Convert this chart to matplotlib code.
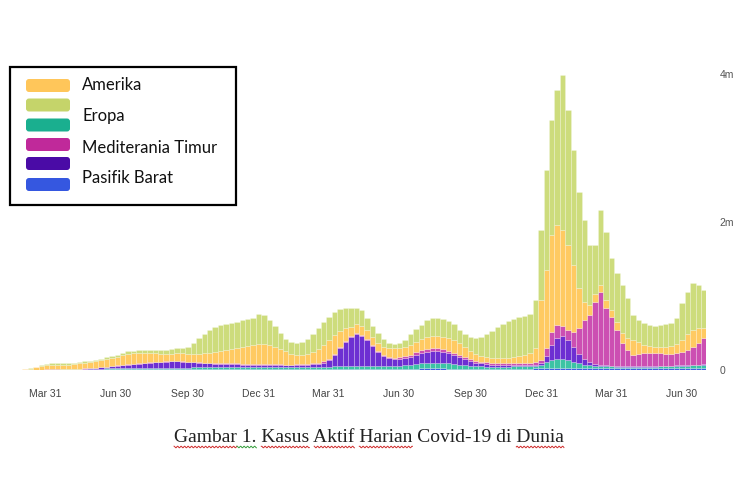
import matplotlib
matplotlib.use('Agg')
import matplotlib.pyplot as plt
from matplotlib.patches import FancyBboxPatch, Rectangle
from matplotlib.font_manager import FontProperties
import numpy as np
import pandas as pd

# weekly daily-case levels per region, thousands
weeks = pd.date_range('2020-03-05', periods=126, freq='7D')

blue = [1, 1, 2, 2, 3, 3, 3, 4, 4, 5,
        6, 7, 8, 9, 10, 11, 12, 13, 13, 14,
        14, 14, 15, 15, 14, 14, 13, 13, 13, 14,
        14, 15, 15, 16, 16, 17, 17, 17, 18, 18,
        18, 18, 19, 20, 20, 19, 18, 17, 16, 16,
        16, 16, 16, 17, 17, 17, 18, 18, 19, 19,
        19, 19, 18, 18, 17, 17, 16, 16, 16, 17,
        18, 19, 20, 21, 22, 22, 22, 21, 20, 19,
        18, 17, 16, 15, 15, 15, 15, 16, 16, 17,
        18, 19, 19, 20, 22, 24, 27, 30, 30, 29,
        28, 26, 25, 24, 24, 25, 26, 25, 24, 23,
        22, 21, 21, 21, 22, 22, 23, 24, 25, 26,
        28, 30, 31, 32, 32, 31]
teal = [0, 0, 1, 1, 2, 3, 3, 4, 5, 5,
        6, 7, 8, 9, 10, 11, 12, 13, 14, 15,
        15, 16, 16, 17, 17, 17, 17, 17, 18, 18,
        18, 19, 20, 20, 21, 21, 22, 22, 22, 23,
        23, 23, 24, 24, 24, 24, 23, 22, 22, 22,
        22, 22, 23, 24, 25, 27, 29, 31, 33, 35,
        36, 37, 38, 37, 36, 35, 35, 36, 38, 42,
        48, 55, 62, 68, 72, 74, 74, 72, 68, 62,
        55, 48, 42, 37, 34, 32, 30, 29, 29, 29,
        30, 31, 32, 33, 36, 50, 80, 105, 115, 115,
        105, 88, 68, 50, 38, 32, 28, 26, 25, 24,
        23, 22, 22, 22, 22, 23, 23, 24, 25, 26,
        27, 28, 29, 30, 31, 32]
purple = [0, 0, 1, 1, 1, 2, 2, 3, 3, 4,
          4, 6, 8, 12, 16, 21, 27, 32, 38, 43,
          49, 55, 61, 65, 72, 77, 82, 85, 84, 80,
          76, 70, 65, 59, 53, 48, 45, 42, 38, 35,
          33, 32, 29, 28, 26, 25, 25, 26, 25, 25,
          27, 30, 33, 36, 43, 57, 88, 154, 245, 324,
          391, 430, 403, 350, 271, 191, 138, 110, 95, 90,
          96, 102, 121, 141, 149, 161, 161, 150, 142, 122,
          103, 84, 64, 49, 39, 34, 29, 23, 23, 22,
          20, 18, 17, 15, 16, 21, 82, 203, 287, 315,
          272, 197, 123, 75, 46, 26, 16, 12, 9, 8,
          7, 7, 6, 6, 6, 6, 6, 6, 6, 7,
          7, 8, 9, 10, 11, 12]
mediterania = [1, 1, 2, 2, 2, 2, 2, 2, 2, 2,
               2, 2, 2, 3, 3, 3, 4, 4, 5, 5,
               6, 6, 6, 5, 5, 5, 5, 5, 5, 5,
               5, 5, 6, 6, 7, 8, 9, 10, 11, 12,
               13, 14, 15, 15, 14, 12, 11, 10, 10, 10,
               10, 10, 11, 12, 13, 14, 15, 16, 17, 18,
               18, 18, 17, 16, 15, 14, 14, 15, 17, 20,
               25, 30, 34, 36, 38, 38, 37, 35, 33, 30,
               27, 24, 22, 21, 21, 22, 23, 25, 27, 28,
               28, 28, 29, 30, 33, 45, 108, 176, 176, 135,
               135, 203, 351, 527, 635, 837, 986, 776, 662, 486,
               317, 223, 160, 165, 175, 185, 180, 170, 165, 160,
               165, 175, 195, 235, 290, 355]
amerika = [5, 12, 28, 48, 53, 58, 58, 55, 60, 65,
           70, 79, 82, 89, 96, 103, 107, 120, 133, 139,
           146, 139, 132, 128, 115, 103, 99, 96, 103, 106,
           103, 107, 110, 122, 133, 149, 164, 179, 195, 209,
           224, 237, 251, 264, 267, 258, 234, 209, 184, 143,
           128, 125, 133, 154, 186, 223, 255, 254, 213, 171,
           117, 117, 118, 119, 107, 108, 108, 120, 131, 128,
           124, 132, 141, 153, 165, 164, 165, 168, 169, 172,
           162, 138, 113, 94, 80, 73, 65, 69, 67, 66,
           80, 93, 106, 132, 190, 805, 1053, 1309, 1350, 1296,
           1148, 904, 540, 242, 135, 106, 92, 106, 90, 107,
           131, 159, 196, 164, 113, 88, 79, 87, 90, 105,
           124, 164, 222, 233, 203, 137]
eropa = [2, 7, 7, 14, 20, 20, 20, 20, 20, 14,
         14, 14, 14, 14, 14, 20, 27, 27, 27, 34,
         27, 34, 34, 41, 47, 54, 61, 68, 68, 74,
         95, 149, 216, 263, 311, 338, 351, 351, 351, 351,
         365, 365, 365, 405, 392, 338, 284, 216, 162, 162,
         162, 176, 203, 243, 284, 311, 311, 311, 297, 270,
         257, 216, 216, 162, 149, 135, 108, 68, 54, 68,
         95, 149, 176, 189, 230, 243, 243, 243, 230, 216,
         176, 176, 189, 216, 257, 311, 365, 419, 459, 500,
         513, 527, 527, 527, 648, 945, 1350, 1553, 1823, 2093,
         1823, 1553, 1296, 1107, 810, 662, 1013, 918, 702, 662,
         648, 540, 338, 297, 297, 284, 284, 297, 311, 311,
         351, 500, 567, 635, 581, 513]

tick_dates = ['2020-03-31', '2020-06-30', '2020-09-30', '2020-12-31',
              '2021-03-31', '2021-06-30', '2021-09-30', '2021-12-31',
              '2022-03-31', '2022-06-30']
tick_labels = ['Mar 31', 'Jun 30', 'Sep 30', 'Dec 31', 'Mar 31',
               'Jun 30', 'Sep 30', 'Dec 31', 'Mar 31', 'Jun 30']

legend_labels = ['Amerika', 'Eropa', 'Mediterania Timur', 'Pasifik Barat']
caption = 'Gambar 1. Kasus Aktif Harian Covid-19 di Dunia'

# bottom -> top stacking
layers = [
    (blue, '#3f5fe0'),
    (teal, '#3cc3a4'),
    (purple, '#6d2fd2'),
    (mediterania, '#cc4fb2'),
    (amerika, '#ffca62'),
    (eropa, '#cddc7c'),
]

fig = plt.figure(figsize=(7.5, 5), dpi=100)
ax = fig.add_axes([8 / 750, 0.26, 698 / 750, 0.6068])

bottom = np.zeros(len(weeks))
for vals, col in layers:
    v = np.array(vals) * 1000.0
    ax.bar(weeks, v, width=7, bottom=bottom, color=col, linewidth=0.6,
           edgecolor=(1, 1, 1, 0.25))
    bottom += v

ax.set_xlim(pd.Timestamp('2020-02-12'), pd.Timestamp('2022-07-31'))
ax.set_ylim(0, 4.1e6)
for s in ax.spines.values():
    s.set_visible(False)
ax.set_xticks(pd.to_datetime(tick_dates))
ax.set_xticklabels(tick_labels)
ax.yaxis.tick_right()
ax.set_yticks([0, 2e6, 4e6])
ax.set_yticklabels(['0', '2m', '4m'])
ax.tick_params(axis='x', length=0, pad=14, labelsize=7.5, labelcolor='#444444')
ax.tick_params(axis='y', length=0, pad=10, labelsize=7.5, labelcolor='#555555')
for t in ax.get_xticklabels() + ax.get_yticklabels():
    t.set_family('Liberation Sans')

# pasted legend box and caption, in pixel coords
ov = fig.add_axes([0, 0, 1, 1], facecolor='none')
ov.set_xlim(0, 750)
ov.set_ylim(500, 0)
ov.axis('off')
ov.add_patch(Rectangle((10, 67), 226, 138, facecolor='white', edgecolor='black', lw=1.6))
sw_cols = ['#ffc65a', '#c5d46a', '#1aaf8f', '#c0299a', '#4a0ba6', '#3557e0']
sw_y = [85.5, 105, 125, 144.5, 163.5, 184.5]
for c, y in zip(sw_cols, sw_y):
    ov.add_patch(FancyBboxPatch((26, y - 6.5), 44, 13, boxstyle='round,pad=0,rounding_size=3',
                                facecolor=c, edgecolor='none'))
for lab, y in zip(legend_labels, [85, 116, 148, 178]):
    ov.text(82, y, lab, fontsize=12, family='Lato', va='center', ha='left', color='#111111')

cap_font = FontProperties(family='Liberation Serif', size=14)
cx, cy = 369, 438
ov.text(cx, cy, caption, fontproperties=cap_font, ha='center', va='center', color='#222222')

# word-processor spell-check squiggles under the caption
renderer = fig.canvas.get_renderer()
def text_w(s):
    if not s:
        return 0.0
    w, h, d = renderer.get_text_width_height_descent(s, cap_font, ismath=False)
    return w

x0 = cx - text_w(caption) / 2
squiggles = [('', 'Gambar', '#d03030'),
             ('Gambar', 'Gambar 1.', '#3aa040'),
             ('Gambar 1. ', 'Gambar 1. Kasus', '#d03030'),
             ('Gambar 1. Kasus ', 'Gambar 1. Kasus Aktif', '#d03030'),
             ('Gambar 1. Kasus Aktif ', 'Gambar 1. Kasus Aktif Harian', '#d03030'),
             ('Gambar 1. Kasus Aktif Harian Covid-19 di ', caption, '#d03030')]
for start, end, col in squiggles:
    a = x0 + text_w(start)
    b = x0 + text_w(end)
    xs = np.linspace(a, b, int((b - a) * 2) + 2)
    ov.plot(xs, 447 + 0.8 * np.sin(xs * 2 * np.pi / 3.5), color=col, lw=0.7)

fig.savefig('out.png', dpi=100)
